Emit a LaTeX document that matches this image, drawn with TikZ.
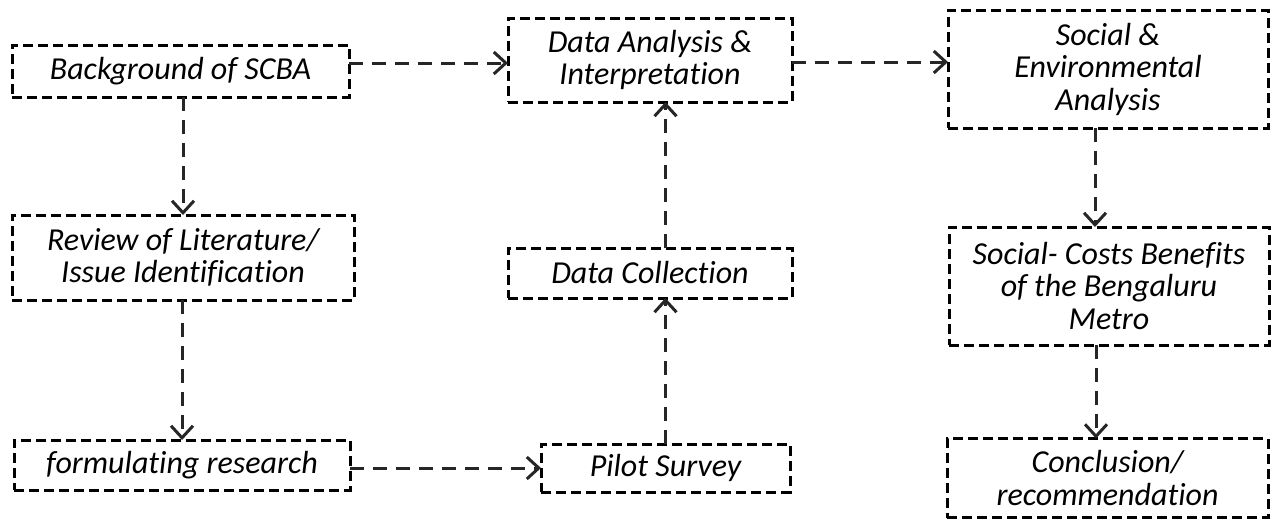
\documentclass[tikz,border=0pt]{standalone}
\usepackage{fontspec}
\setmainfont{Carlito}[Ligatures={NoCommon}]
\usetikzlibrary{arrows.meta}
\tikzset{
  box/.style={draw=black, line width=3pt, dash pattern=on 10pt off 5pt,
    inner sep=0pt, outer sep=0pt, align=center,
    font=\itshape\fontsize{32}{32.5}\selectfont},
  conn/.style={draw=black!85, line width=3pt, dash pattern=on 14pt off 9pt,
    -{Straight Barb[length=12pt,width=22pt,line width=3pt]}}
}
\begin{document}
\begin{tikzpicture}[x=1pt,y=-1pt]
\useasboundingbox (0,0) rectangle (1272,520);
% boxes
\node[box, minimum width=337pt, minimum height=52pt] (bg) at (180.5,71) {Background of SCBA};
\node[box, minimum width=284pt, minimum height=84pt] (da) at (650,60) {Data Analysis \&\\Interpretation};
\node[box, minimum width=320pt, minimum height=118pt] (se) at (1108,69) {Social \&\\Environmental\\Analysis};
\node[box, minimum width=342pt, minimum height=85pt] (rv) at (183,257.5) {Review of Literature/\\Issue Identification};
\node[box, minimum width=284pt, minimum height=50pt] (dc) at (650,273) {Data Collection};
\node[box, minimum width=320pt, minimum height=118pt] (sc) at (1109,286) {Social- Costs Benefits\\of the Bengaluru\\Metro};
\node[box, minimum width=336pt, minimum height=50pt] (fr) at (182,465) {formulating research};
\node[box, minimum width=249pt, minimum height=48pt] (ps) at (665.5,468) {Pilot Survey};
\node[box, minimum width=321pt, minimum height=79pt] (cc) at (1107.5,478) {Conclusion/\\recommendation};
% connectors
\draw[conn] ([yshift=8pt]bg.east) -- ([yshift=-3pt]da.west);
\draw[conn] ([yshift=-2pt]da.east) -- ([yshift=7pt]se.west);
\draw[conn] (rv.north |- bg.south) -- (rv.north);
\draw[conn] (fr.north |- rv.south) -- (fr.north);
\draw[conn] (fr.east |- ps.west) -- (ps.west);
\draw[conn] (ps.north) -- (ps.north |- dc.south);
\draw[conn] (ps.north |- dc.north) -- (ps.north |- da.south);
\draw[conn] ([xshift=-13pt]se.south) -- ([xshift=-13pt]se.south |- sc.north);
\draw[conn] ([xshift=-13pt]sc.south) -- ([xshift=-13pt]sc.south |- cc.north);
\end{tikzpicture}
\end{document}
